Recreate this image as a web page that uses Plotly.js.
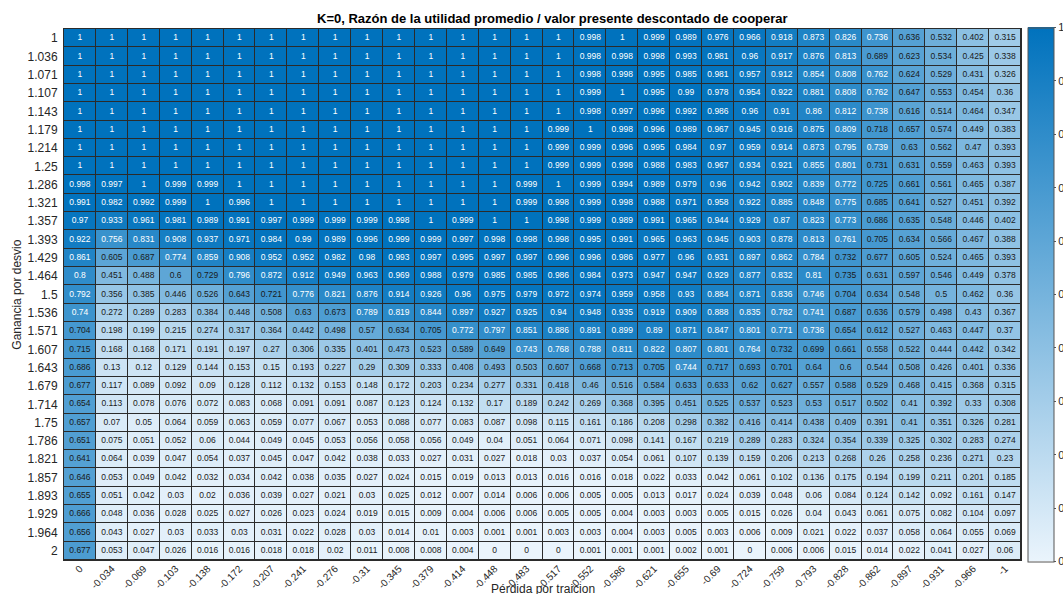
<!DOCTYPE html>
<html><head><meta charset="utf-8">
<script src="https://cdn.plot.ly/plotly-3.0.1.min.js"></script>
<style>html,body{margin:0;padding:0;overflow:hidden;background:#fff}</style>
</head><body><div id="chart" style="width:1063px;height:594px"></div>
<script>
const perdida = ["0","-0.034","-0.069","-0.103","-0.138","-0.172","-0.207","-0.241","-0.276","-0.31","-0.345","-0.379","-0.414","-0.448","-0.483","-0.517","-0.552","-0.586","-0.621","-0.655","-0.69","-0.724","-0.759","-0.793","-0.828","-0.862","-0.897","-0.931","-0.966","-1"];
const ganancia = ["1","1.036","1.071","1.107","1.143","1.179","1.214","1.25","1.286","1.321","1.357","1.393","1.429","1.464","1.5","1.536","1.571","1.607","1.643","1.679","1.714","1.75","1.786","1.821","1.857","1.893","1.929","1.964","2"];

const g_1000 = [1,1,1,1,1,1,1,1,1,1,1,1,1,1,1,1,0.998,1,0.999,0.989,0.976,0.966,0.918,0.873,0.826,0.736,0.636,0.532,0.402,0.315];
const g_1036 = [1,1,1,1,1,1,1,1,1,1,1,1,1,1,1,1,0.998,0.998,0.998,0.993,0.981,0.96,0.917,0.876,0.813,0.689,0.623,0.534,0.425,0.338];
const g_1071 = [1,1,1,1,1,1,1,1,1,1,1,1,1,1,1,1,0.998,0.998,0.995,0.985,0.981,0.957,0.912,0.854,0.808,0.762,0.624,0.529,0.431,0.326];
const g_1107 = [1,1,1,1,1,1,1,1,1,1,1,1,1,1,1,1,0.999,1,0.995,0.99,0.978,0.954,0.922,0.881,0.808,0.762,0.647,0.553,0.454,0.36];
const g_1143 = [1,1,1,1,1,1,1,1,1,1,1,1,1,1,1,1,0.998,0.997,0.996,0.992,0.986,0.96,0.91,0.86,0.812,0.738,0.616,0.514,0.464,0.347];
const g_1179 = [1,1,1,1,1,1,1,1,1,1,1,1,1,1,1,0.999,1,0.998,0.996,0.989,0.967,0.945,0.916,0.875,0.809,0.718,0.657,0.574,0.449,0.383];
const g_1214 = [1,1,1,1,1,1,1,1,1,1,1,1,1,1,1,0.999,0.999,0.996,0.995,0.984,0.97,0.959,0.914,0.873,0.795,0.739,0.63,0.562,0.47,0.393];
const g_1250 = [1,1,1,1,1,1,1,1,1,1,1,1,1,1,1,0.999,0.999,0.998,0.988,0.983,0.967,0.934,0.921,0.855,0.801,0.731,0.631,0.559,0.463,0.393];
const g_1286 = [0.998,0.997,1,0.999,0.999,1,1,1,1,1,1,1,1,1,0.999,1,0.999,0.994,0.989,0.979,0.96,0.942,0.902,0.839,0.772,0.725,0.661,0.561,0.465,0.387];
const g_1321 = [0.991,0.982,0.992,0.999,1,0.996,1,1,1,1,1,1,1,1,0.999,0.998,0.999,0.998,0.988,0.971,0.958,0.922,0.885,0.848,0.775,0.685,0.641,0.527,0.451,0.392];
const g_1357 = [0.97,0.933,0.961,0.981,0.989,0.991,0.997,0.999,0.999,0.999,0.998,1,0.999,1,1,0.998,0.999,0.989,0.991,0.965,0.944,0.929,0.87,0.823,0.773,0.686,0.635,0.548,0.446,0.402];
const g_1393 = [0.922,0.756,0.831,0.908,0.937,0.971,0.984,0.99,0.989,0.996,0.999,0.999,0.997,0.998,0.998,0.998,0.995,0.991,0.965,0.963,0.945,0.903,0.878,0.813,0.761,0.705,0.634,0.566,0.467,0.388];
const g_1429 = [0.861,0.605,0.687,0.774,0.859,0.908,0.952,0.952,0.982,0.98,0.993,0.997,0.995,0.997,0.997,0.996,0.996,0.986,0.977,0.96,0.931,0.897,0.862,0.784,0.732,0.677,0.605,0.524,0.465,0.393];
const g_1464 = [0.8,0.451,0.488,0.6,0.729,0.796,0.872,0.912,0.949,0.963,0.969,0.988,0.979,0.985,0.985,0.986,0.984,0.973,0.947,0.947,0.929,0.877,0.832,0.81,0.735,0.631,0.597,0.546,0.449,0.378];
const g_1500 = [0.792,0.356,0.385,0.446,0.526,0.643,0.721,0.776,0.821,0.876,0.914,0.926,0.96,0.975,0.979,0.972,0.974,0.959,0.958,0.93,0.884,0.871,0.836,0.746,0.704,0.634,0.548,0.5,0.462,0.36];
const g_1536 = [0.74,0.272,0.289,0.283,0.384,0.448,0.508,0.63,0.673,0.789,0.819,0.844,0.897,0.927,0.925,0.94,0.948,0.935,0.919,0.909,0.888,0.835,0.782,0.741,0.687,0.636,0.579,0.498,0.43,0.367];
const g_1571 = [0.704,0.198,0.199,0.215,0.274,0.317,0.364,0.442,0.498,0.57,0.634,0.705,0.772,0.797,0.851,0.886,0.891,0.899,0.89,0.871,0.847,0.801,0.771,0.736,0.654,0.612,0.527,0.463,0.447,0.37];
const g_1607 = [0.715,0.168,0.168,0.171,0.191,0.197,0.27,0.306,0.335,0.401,0.473,0.523,0.589,0.649,0.743,0.768,0.788,0.811,0.822,0.807,0.801,0.764,0.732,0.699,0.661,0.558,0.522,0.444,0.442,0.342];
const g_1643 = [0.686,0.13,0.12,0.129,0.144,0.153,0.15,0.193,0.227,0.29,0.309,0.333,0.408,0.493,0.503,0.607,0.668,0.713,0.705,0.744,0.717,0.693,0.701,0.64,0.6,0.544,0.508,0.426,0.401,0.336];
const g_1679 = [0.677,0.117,0.089,0.092,0.09,0.128,0.112,0.132,0.153,0.148,0.172,0.203,0.234,0.277,0.331,0.418,0.46,0.516,0.584,0.633,0.633,0.62,0.627,0.557,0.588,0.529,0.468,0.415,0.368,0.315];
const g_1714 = [0.654,0.113,0.078,0.076,0.072,0.083,0.068,0.091,0.091,0.087,0.123,0.124,0.132,0.17,0.189,0.242,0.269,0.368,0.395,0.451,0.525,0.537,0.523,0.53,0.517,0.502,0.41,0.392,0.33,0.308];
const g_1750 = [0.657,0.07,0.05,0.064,0.059,0.063,0.059,0.077,0.067,0.053,0.088,0.077,0.083,0.087,0.098,0.115,0.161,0.186,0.208,0.298,0.382,0.416,0.414,0.438,0.409,0.391,0.41,0.351,0.326,0.281];
const g_1786 = [0.651,0.075,0.051,0.052,0.06,0.044,0.049,0.045,0.053,0.056,0.058,0.056,0.049,0.04,0.051,0.064,0.071,0.098,0.141,0.167,0.219,0.289,0.283,0.324,0.354,0.339,0.325,0.302,0.283,0.274];
const g_1821 = [0.641,0.064,0.039,0.047,0.054,0.037,0.045,0.047,0.042,0.038,0.033,0.027,0.031,0.027,0.018,0.03,0.037,0.054,0.061,0.107,0.139,0.159,0.206,0.213,0.268,0.26,0.258,0.236,0.271,0.23];
const g_1857 = [0.646,0.053,0.049,0.042,0.032,0.034,0.042,0.038,0.035,0.027,0.024,0.015,0.019,0.013,0.013,0.016,0.016,0.018,0.022,0.033,0.042,0.061,0.102,0.136,0.175,0.194,0.199,0.211,0.201,0.185];
const g_1893 = [0.655,0.051,0.042,0.03,0.02,0.036,0.039,0.027,0.021,0.03,0.025,0.012,0.007,0.014,0.006,0.006,0.005,0.005,0.013,0.017,0.024,0.039,0.048,0.06,0.084,0.124,0.142,0.092,0.161,0.147];
const g_1929 = [0.666,0.048,0.036,0.028,0.025,0.027,0.026,0.023,0.024,0.019,0.015,0.009,0.004,0.006,0.006,0.005,0.005,0.004,0.003,0.003,0.005,0.015,0.026,0.04,0.043,0.061,0.075,0.082,0.104,0.097];
const g_1964 = [0.656,0.043,0.027,0.03,0.033,0.03,0.031,0.022,0.028,0.03,0.014,0.01,0.003,0.001,0.001,0.003,0.003,0.004,0.003,0.005,0.003,0.006,0.009,0.021,0.022,0.037,0.058,0.064,0.055,0.069];
const g_2000 = [0.677,0.053,0.047,0.026,0.016,0.016,0.018,0.018,0.02,0.011,0.008,0.008,0.004,0,0,0,0.001,0.001,0.001,0.002,0.001,0,0.006,0.006,0.015,0.014,0.022,0.041,0.027,0.06];

const z = [g_1000,g_1036,g_1071,g_1107,g_1143,g_1179,g_1214,g_1250,g_1286,g_1321,g_1357,g_1393,g_1429,g_1464,g_1500,g_1536,g_1571,g_1607,g_1643,g_1679,g_1714,g_1750,g_1786,g_1821,g_1857,g_1893,g_1929,g_1964,g_2000];

const FONT = "Liberation Sans, Arial, sans-serif";
const TXT = "#262626";

const tx = [], ty = [], tt = [], tc = [];
z.forEach((row, i) => row.forEach((v, j) => {
  tx.push(perdida[j]); ty.push(ganancia[i]); tt.push(String(v));
  tc.push(v >= 0.7355 ? "#ffffff" : "#1a1a1a");
}));

const heat = {
  type: "heatmap", x: perdida, y: ganancia, z: z,
  zmin: 0, zmax: 1, xgap: 1, ygap: 1,
  colorscale: [[0, "rgb(234,244,252)"], [1, "rgb(0,114,189)"]],
  hoverinfo: "skip",
  colorbar: {
    x: 1.0073, xanchor: "left", xpad: 0, xref: "paper",
    y: 0.5, yanchor: "middle", ypad: 0,
    lenmode: "pixels", len: 534, thickness: 26,
    outlinewidth: 1, outlinecolor: "#555555",
    tickmode: "linear", tick0: 0, dtick: 0.1,
    ticks: "outside", ticklen: 2, tickcolor: "#555555",
    tickfont: {family: FONT, size: 11, color: TXT}
  }
};
const labels = {
  type: "scatter", mode: "text", x: tx, y: ty, text: tt,
  textfont: {family: FONT, size: 8.5, color: tc},
  hoverinfo: "skip", showlegend: false
};

const layout = {
  width: 1063, height: 594,
  margin: {l: 64, r: 42, t: 29, b: 34, autoexpand: false},
  paper_bgcolor: "#ffffff", plot_bgcolor: "#2b2b2b",
  font: {family: FONT, color: TXT},
  showlegend: false,
  xaxis: {type: "category", range: [-0.5, 29.5], tickangle: -45, ticks: "", showgrid: false, zeroline: false,
          showline: true, mirror: true, linecolor: "#2b2b2b", linewidth: 1, ticklabelstandoff: -2,
          tickfont: {family: FONT, size: 10, color: TXT}, automargin: false},
  yaxis: {type: "category", range: [28.5, -0.5], ticks: "", showgrid: false, zeroline: false,
          showline: true, mirror: true, linecolor: "#2b2b2b", linewidth: 1, ticklabelstandoff: 3,
          tickfont: {family: FONT, size: 12, color: TXT}, automargin: false},
  annotations: [
    {text: "<b>K=0, Razón de la utilidad promedio / valor presente descontado de cooperar</b>",
     xref: "paper", yref: "paper", x: 0.51, y: 1, yshift: 11, xanchor: "center", yanchor: "middle",
     showarrow: false, font: {family: FONT, size: 13, color: "#000000"}},
    {text: "Pérdida por traicion", xref: "paper", yref: "paper", x: 0.5, y: -0.0542,
     xanchor: "center", yanchor: "middle", showarrow: false, font: {family: FONT, size: 12, color: TXT}},
    {text: "Ganancia por desvio", xref: "paper", yref: "paper", x: -0.05, y: 0.5, textangle: -90,
     xanchor: "center", yanchor: "middle", showarrow: false, font: {family: FONT, size: 12, color: TXT}}
  ]
};

Plotly.newPlot("chart", [heat, labels], layout, {displayModeBar: false, staticPlot: true});
</script></body></html>
